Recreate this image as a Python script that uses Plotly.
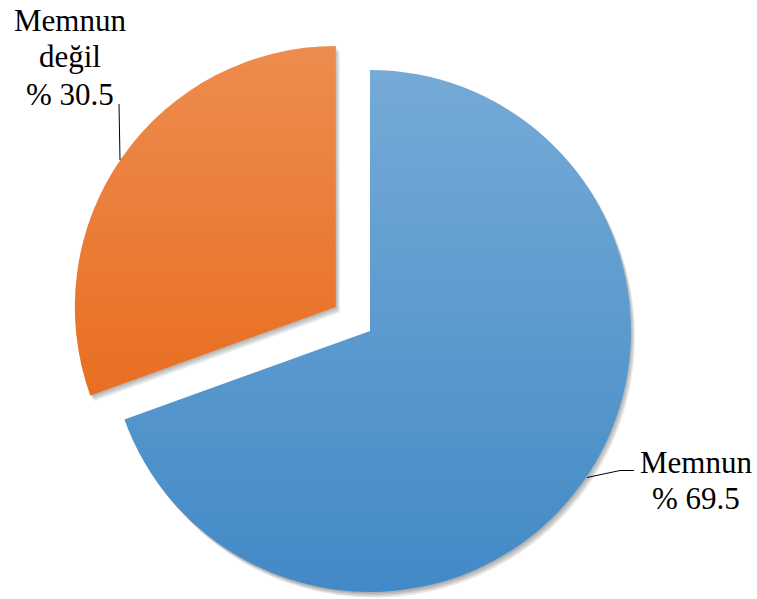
import base64
import math
import struct
import zlib

import plotly.graph_objects as go

# ---- data -------------------------------------------------------------
labels = ["Memnun", "Memnun değil"]
shares = [69.5, 30.5]

# ---- styling ----------------------------------------------------------
W, H = 757, 599
CX, CY, R = 370, 331, 261          # pie centre / radius in pixels
PULL = [0.0, 0.16]                 # explode fraction per slice
BASE_COLORS = ["#428AC7", "#E65E08"]
FONT = dict(family="Liberation Serif", size=31, color="#000000")


def px_x(x):
    return x / W


def px_y(y):
    return 1 - y / H


# centre of each slice after pulling it out along its mid angle
total = sum(shares)
centres = []
acc = 0.0
for v, p in zip(shares, PULL):
    mid = (acc + v / 2) / total * 2 * math.pi      # clockwise from 12 o'clock
    centres.append((CX + p * R * math.sin(mid), CY - p * R * math.cos(mid)))
    acc += v


def slice_trace(idx, cx, cy, color):
    cols = ["rgba(0,0,0,0)"] * len(shares)
    cols[idx] = color
    return go.Pie(
        labels=labels,
        values=shares,
        sort=False,
        direction="clockwise",
        rotation=0,
        marker=dict(colors=cols, line=dict(width=0)),
        textinfo="none",
        hoverinfo="label+percent",
        showlegend=False,
        domain=dict(x=[px_x(cx - R), px_x(cx + R)],
                    y=[px_y(cy + R), px_y(cy - R)]),
    )


fig = go.Figure()

# soft drop shadow: a few faint copies shifted down-right
for k in range(1, 5):
    for i, (cx, cy) in enumerate(centres):
        fig.add_trace(slice_trace(i, cx + 1.0 * k, cy + 1.4 * k, "rgba(0,0,0,0.09)"))

# the slices themselves
for i, (cx, cy) in enumerate(centres):
    fig.add_trace(slice_trace(i, cx, cy, BASE_COLORS[i]))


# vertical white fade that lightens the upper part of the slices
def fade_png(alphas):
    raw = b"".join(b"\x00" + bytes((255, 255, 255, a)) for a in alphas)

    def chunk(tag, data):
        return (struct.pack(">I", len(data)) + tag + data
                + struct.pack(">I", zlib.crc32(tag + data) & 0xFFFFFFFF))

    png = (b"\x89PNG\r\n\x1a\n"
           + chunk(b"IHDR", struct.pack(">IIBBBBB", 1, len(alphas), 8, 6, 0, 0, 0))
           + chunk(b"IDAT", zlib.compress(raw))
           + chunk(b"IEND", b""))
    return "data:image/png;base64," + base64.b64encode(png).decode()


# the fade only spans the pie's horizontal extent, leaving the label areas untouched
FADE_X0, FADE_X1 = 70, 640
alphas = [int(round(255 * max(0.0, 0.27 * (592 - y) / 512))) for y in range(H)]
images = [dict(source=fade_png(alphas), xref="paper", yref="paper",
               x=px_x(FADE_X0), y=1, sizex=px_x(FADE_X1) - px_x(FADE_X0), sizey=1,
               sizing="stretch", xanchor="left", yanchor="top", layer="above")]

# labels: wrapped category name followed by the percentage
label_spots = [
    dict(x=695.5, y=[462, 498]),
    dict(x=70, y=[20.5, 56.5, 94]),
]
annotations = []
for name, v, spot in zip(labels, shares, label_spots):
    lines = name.split(" ") + [f"% {v}"]
    for line, y in zip(lines, spot["y"]):
        annotations.append(dict(text=line, x=px_x(spot["x"]), y=px_y(y),
                                xref="paper", yref="paper", showarrow=False,
                                xanchor="center", yanchor="middle", font=dict(FONT)))

# leader lines
shapes = [
    dict(type="path", xref="paper", yref="paper",
         path=f"M {px_x(587)},{px_y(477.5)} L {px_x(620)},{px_y(470.5)} L {px_x(634)},{px_y(470.5)}",
         line=dict(color="#000000", width=1)),
    dict(type="line", xref="paper", yref="paper",
         x0=px_x(119), y0=px_y(104), x1=px_x(120), y1=px_y(160),
         line=dict(color="#000000", width=1)),
]

fig.update_layout(
    width=W,
    height=H,
    margin=dict(l=0, r=0, t=0, b=0),
    paper_bgcolor="#FFFFFF",
    plot_bgcolor="#FFFFFF",
    showlegend=False,
    images=images,
    annotations=annotations,
    shapes=shapes,
)

fig.write_html("out.html")
